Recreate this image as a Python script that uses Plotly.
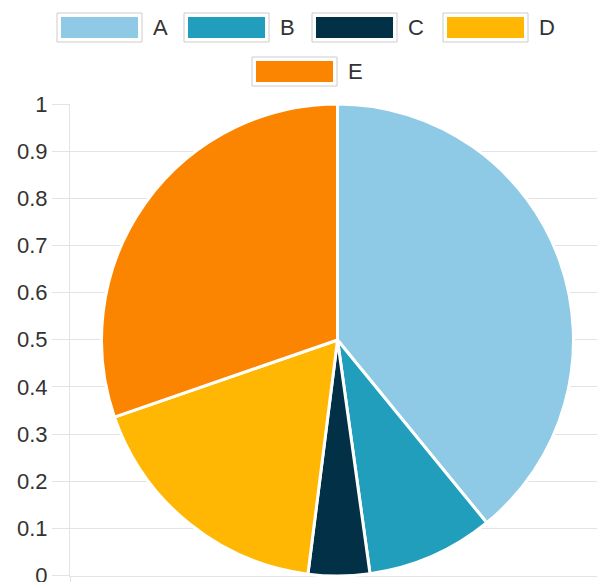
import plotly.graph_objects as go

# ---- data ----
categories = ["A", "B", "C", "D", "E"]
values = [39.1, 8.7, 4.2, 17.7, 30.3]
colors = ["#8ecae6", "#219ebc", "#023047", "#ffb703", "#fb8500"]
y_tick_values = [0, 0.1, 0.2, 0.3, 0.4, 0.5, 0.6, 0.7, 0.8, 0.9, 1]
y_tick_labels = ["0", "0.1", "0.2", "0.3", "0.4", "0.5", "0.6", "0.7", "0.8", "0.9", "1"]

# ---- layout constants ----
OFF = 8  # default page body margin
W, H = 605 - OFF, 582 - OFF
ML, MR, MT, MB = 70 - OFF, 0, 104 - OFF, 6
PW, PH = W - ML - MR, H - MT - MB
FONT = "Liberation Sans, Arial, sans-serif"
GRID = "#e3e3e3"
TEXT = "#333333"

def px_x(px):
    return (px - OFF - ML) / PW

def px_y(py):
    return (H - MB - (py - OFF)) / PH

fig = go.Figure()

# invisible cartesian trace so that the axes are drawn
fig.add_trace(go.Scatter(x=[], y=[], showlegend=False, hoverinfo="skip"))

fig.add_trace(go.Pie(
    labels=categories,
    values=values,
    marker=dict(colors=colors, line=dict(color="white", width=3)),
    sort=False,
    direction="clockwise",
    rotation=0,
    textinfo="none",
    showlegend=False,
    domain=dict(x=[0, 1], y=[0, 1]),
))

# custom legend (wide boxes), positions in page pixels
legend_pos = [(57, 13), (184, 13), (312, 13), (443, 13), (252, 57)]
BOX_W, BOX_H, INSET = 85, 29, 4
shapes = []
annotations = []
for cat, col, (lx, ly) in zip(categories, colors, legend_pos):
    shapes.append(dict(type="rect", xref="paper", yref="paper",
                       x0=px_x(lx), x1=px_x(lx + BOX_W),
                       y0=px_y(ly + BOX_H), y1=px_y(ly),
                       line=dict(color="#cccccc", width=1), fillcolor="white", layer="above"))
    shapes.append(dict(type="rect", xref="paper", yref="paper",
                       x0=px_x(lx + INSET), x1=px_x(lx + BOX_W - INSET),
                       y0=px_y(ly + BOX_H - INSET), y1=px_y(ly + INSET),
                       line=dict(width=0), fillcolor=col, layer="above"))
    annotations.append(dict(xref="paper", yref="paper", x=px_x(lx + BOX_W + 9),
                            y=px_y(ly + BOX_H / 2), text=cat, showarrow=False,
                            xanchor="left", yanchor="middle",
                            font=dict(family=FONT, size=22, color=TEXT)))

fig.update_layout(
    width=W, height=H,
    margin=dict(l=ML, r=MR, t=MT, b=MB, autoexpand=False),
    paper_bgcolor="white", plot_bgcolor="white",
    showlegend=False,
    shapes=shapes,
    annotations=annotations,
    xaxis=dict(range=[0, 1], showgrid=False, zeroline=False,
               showticklabels=False, tickvals=[0], ticks="outside",
               ticklen=8, tickcolor=GRID, showline=True, linecolor=GRID,
               linewidth=1, fixedrange=True, automargin=False),
    yaxis=dict(range=[-0.001, 1], tickvals=y_tick_values, ticktext=y_tick_labels,
               showgrid=True, gridcolor=GRID, gridwidth=1, zeroline=False,
               showline=True, linecolor=GRID, linewidth=1,
               ticks="outside", ticklen=17, tickcolor=GRID,
               ticklabeloverflow="allow", automargin=False,
               tickfont=dict(family=FONT, size=22, color=TEXT), fixedrange=True),
)

fig.write_html("out.html")
